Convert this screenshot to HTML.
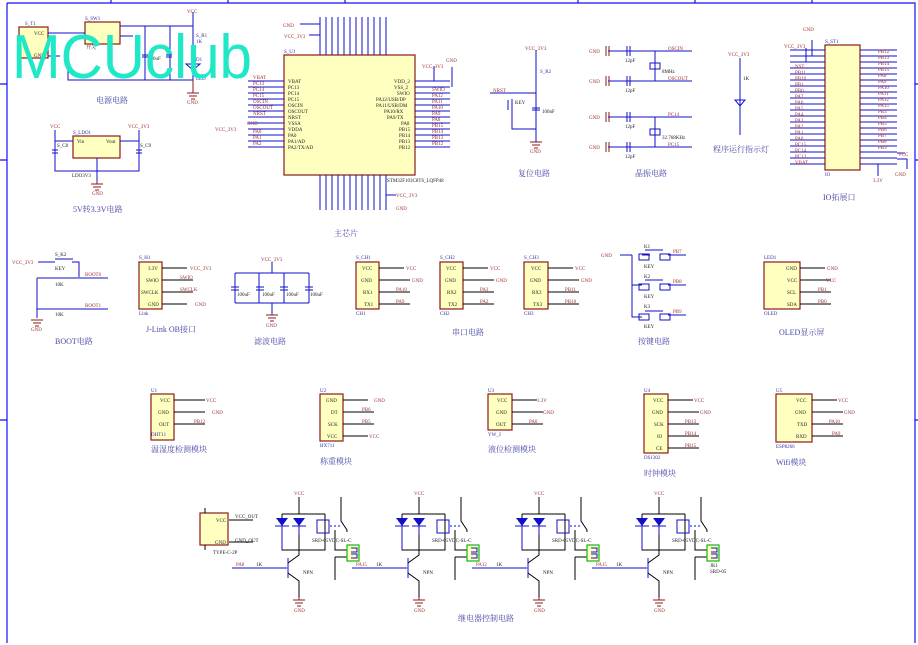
<!DOCTYPE html>
<html><head><meta charset="utf-8"><style>
html,body{margin:0;padding:0;background:#fff;}
svg{display:block;font-family:"Liberation Serif","Noto Serif CJK SC",serif;}
.w{stroke:#1010c8;stroke-width:1;fill:none}
.k{stroke:#000;stroke-width:1;fill:none}
.r{stroke:#8b1a1a;stroke-width:1;fill:none}
.bx{fill:#ffffc0;stroke:#8b1a1a;stroke-width:1.2}
.t{font-size:5px;fill:#222}
.n{font-size:5px;fill:#a03030}
.b{font-size:5px;fill:#3030a0}
.h{font-size:8px;fill:#4848a8;font-family:"Liberation Serif","Noto Serif CJK SC",serif}
</style></head><body>
<svg width="918" height="645" viewBox="0 0 918 645" xmlns="http://www.w3.org/2000/svg">
<rect width="918" height="645" fill="#fff"/>
<!-- border -->
<path d="M7 3V643M7 3H915V643M111 0V3M228 0V3M345 0V3M578 0V3M695 0V3M812 0V3M915 160h3M915 84h3M7 84H0M7 160H0M915 420h3M7 420H0" stroke="#1010ff" stroke-width="1.2" fill="none"/>

<!-- power circuit -->
<rect class="bx" x="19" y="27" width="29" height="31"/>
<rect class="bx" x="85" y="22" width="35" height="22"/>
<path class="w" d="M48 33h37M48 56H60M68 56V80H193M120 26h73M120 36h13M145 26V80M170 26V80M193 12V80"/>
<path class="w" d="M142 55h6M142 57h6M166 55h6M166 57h6"/>
<path class="w" d="M186 64l7 6l7-6z" fill="#1010c8"/>
<text class="n" x="187" y="13">VCC</text><text class="b" x="196" y="37">S_R1</text><text class="b" x="196" y="43">1K</text>
<text class="b" x="196" y="61">D1</text><text class="b" x="196" y="80">LED</text>
<text class="t" x="148" y="60">100uF</text><text class="b" x="85" y="20">S_SW1</text><text class="t" x="86" y="49">开关</text>
<text class="b" x="25" y="25">S_T1</text><text class="t" x="34" y="35">VCC</text><text class="t" x="34" y="57">GND</text>
<path class="r" d="M193 80v13M187 93h12M189 96h8M191 99h4"/><text class="n" x="187" y="104">GND</text>
<text class="h" x="96" y="103">电源电路</text>
<text x="12" y="78" font-family="Liberation Sans,sans-serif" font-size="62" fill="#1ee8c6" textLength="240" lengthAdjust="spacingAndGlyphs">MCUclub</text>

<!-- LDO -->
<rect class="bx" x="73" y="136" width="47" height="22"/>
<path class="w" d="M55 130v41H139V130M55 141h18M120 141h19M97 158v23"/>
<path class="w" d="M52 150h6M52 153h6M136 150h6M136 153h6"/>
<text class="n" x="50" y="128">VCC</text><text class="n" x="128" y="128">VCC_3V3</text>
<text class="t" x="77" y="143">Vin</text><text class="t" x="106" y="143">Vout</text><text class="b" x="73" y="134">S_LDO1</text>
<text class="t" x="57" y="147">S_C8</text><text class="t" x="140" y="147">S_C9</text><text class="t" x="72" y="177">LDO3V3</text>
<path class="r" d="M97 181v3M91 184h12M93 187h8M95 190h4"/><text class="n" x="92" y="195">GND</text>
<text class="h" x="73" y="212">5V转3.3V电路</text>

<!-- main chip -->
<rect class="bx" x="284" y="55" width="131" height="120"/>
<path class="w" d="M248 81h36M248 87h36M248 93h36M248 99h36M248 105h36M248 111h36M248 117h36M248 123h36M248 129h36M248 135h36M248 141h36M248 147h36"/>
<path class="w" d="M415 81h35M415 87h35M415 93h35M415 99h35M415 105h35M415 111h35M415 117h35M415 123h35M415 129h35M415 135h35M415 141h35M415 147h35"/>
<path class="w" d="M320 17v38M326 17v38M332 17v38M338 17v38M344 17v38M350 17v38M356 17v38M362 17v38M368 17v38M374 17v38M380 17v38M386 17v38"/>
<path class="w" d="M320 175v35M326 175v35M332 175v35M338 175v35M344 175v35M350 175v35M356 175v35M362 175v35M368 175v35M374 175v35M380 175v35M386 175v35"/>
<path class="w" d="M300 24h20v31M309 35h11M434 66v15M452 67v20M386 175v20h10"/>
<text class="n" x="283" y="27">GND</text><text class="n" x="284" y="38">VCC_3V3</text><text class="n" x="422" y="68">VCC_3V3</text><text class="n" x="446" y="62">GND</text>
<text class="n" x="396" y="197">VCC_3V3</text><text class="n" x="396" y="210">GND</text>
<text class="n" x="215" y="131">VCC_3V3</text><text class="n" x="247" y="125">GND</text>
<g class="t"><text x="288" y="83">VBAT</text><text x="288" y="89">PC13</text><text x="288" y="95">PC14</text><text x="288" y="101">PC15</text><text x="288" y="107">OSCIN</text><text x="288" y="113">OSCOUT</text><text x="288" y="119">NRST</text><text x="288" y="125">VSSA</text><text x="288" y="131">VDDA</text><text x="288" y="137">PA0</text><text x="288" y="143">PA1/AD</text><text x="288" y="149">PA2/TX/AD</text>
<text x="394" y="83">VDD_2</text><text x="394" y="89">VSS_2</text><text x="397" y="95">SWIO</text><text x="376" y="101">PA12/USB/DP</text><text x="376" y="107">PA11/USB/DM</text><text x="384" y="113">PA10/RX</text><text x="387" y="119">PA9/TX</text><text x="401" y="125">PA8</text><text x="399" y="131">PB15</text><text x="399" y="137">PB14</text><text x="399" y="143">PB13</text><text x="399" y="149">PB12</text></g>
<g class="n"><text x="253" y="79">VBAT</text><text x="253" y="85">PC13</text><text x="253" y="91">PC14</text><text x="253" y="97">PC15</text><text x="253" y="103">OSCIN</text><text x="253" y="109">OSCOUT</text><text x="253" y="115">NRST</text><text x="253" y="133">PA0</text><text x="253" y="139">PA1</text><text x="253" y="145">PA2</text>
<text x="432" y="91">SWIO</text><text x="432" y="97">PA12</text><text x="432" y="103">PA11</text><text x="432" y="109">PA10</text><text x="432" y="115">PA9</text><text x="432" y="121">PA8</text><text x="432" y="127">PB15</text><text x="432" y="133">PB14</text><text x="432" y="139">PB13</text><text x="432" y="145">PB12</text></g>
<text class="b" x="284" y="53">S_U1</text><text class="t" x="387" y="182">STM32F103C8T6_LQFP48</text>
<text class="h" x="334" y="236">主芯片</text>

<!-- reset -->
<path class="w" d="M536 50v80M490 93h46M512 99v30H536M536 130v12"/>
<path class="w" d="M532 108h8M532 110h8M508 100v10"/>
<text class="n" x="525" y="50">VCC_3V3</text><text class="n" x="493" y="92">NRST</text><text class="t" x="515" y="104">KEY</text><text class="t" x="542" y="113">100nF</text><text class="b" x="540" y="73">S_R2</text>
<path class="r" d="M530 142h12M532 145h8M534 148h4"/><text class="n" x="530" y="153">GND</text>
<text class="h" x="518" y="176">复位电路</text>

<!-- crystal -->
<path class="w" d="M608 51h84M608 81h84M608 117h84M608 147h84M655 51v30M655 117v30"/>
<rect x="650" y="63" width="10" height="6" class="w"/><rect x="650" y="129" width="10" height="6" class="w"/>
<path class="r" d="M606 46v10M609 46v10M606 76v10M609 76v10M606 112v10M609 112v10M606 142v10M609 142v10"/>
<path class="w" d="M627 46v10M630 46v10M627 76v10M630 76v10M627 112v10M630 112v10M627 142v10M630 142v10"/>
<g class="n"><text x="589" y="53">GND</text><text x="589" y="83">GND</text><text x="589" y="119">GND</text><text x="589" y="149">GND</text>
<text x="668" y="50">OSCIN</text><text x="668" y="80">OSCOUT</text><text x="668" y="116">PC14</text><text x="668" y="146">PC15</text></g>
<g class="t"><text x="625" y="62">12pF</text><text x="625" y="92">12pF</text><text x="625" y="128">12pF</text><text x="625" y="158">12pF</text><text x="662" y="73">8MHz</text><text x="662" y="139">32.768KHz</text></g>
<text class="h" x="635" y="176">晶振电路</text>

<!-- LED -->
<path class="w" d="M740 58v77M735 100h10l-5 6z" fill="#1010c8"/>
<text class="n" x="728" y="56">VCC_3V3</text><text class="t" x="743" y="80">1K</text>
<text class="h" x="713" y="152">程序运行指示灯</text>

<!-- IO header -->
<rect class="bx" x="825" y="45" width="35" height="125"/>
<path class="w" d="M790 50h35M790 56h35M790 62h35M790 68h35M790 74h35M790 80h35M790 86h35M790 92h35M790 98h35M790 104h35M790 110h35M790 116h35M790 122h35M790 128h35M790 134h35M790 140h35M790 146h35M790 152h35M790 158h35M790 164h35"/>
<path class="w" d="M860 50h37M860 56h37M860 62h37M860 68h37M860 74h37M860 80h37M860 86h37M860 92h37M860 98h37M860 104h37M860 110h37M860 116h37M860 122h37M860 128h37M860 134h37M860 140h37M860 146h37M860 152h37M860 158h37M860 164h37M806 48v14M812 40v16M897 153h8M897 159h10v10M878 164v12"/>
<text class="n" x="803" y="31">GND</text><text class="n" x="784" y="48">VCC_3V3</text><text class="n" x="898" y="156">VCC</text><text class="n" x="895" y="176">GND</text><text class="n" x="873" y="182">3.3V</text>
<g class="n"><text x="795" y="68">NST</text><text x="795" y="74">PB11</text><text x="795" y="80">PB10</text><text x="795" y="86">PB1</text><text x="795" y="92">PB0</text><text x="795" y="98">PA7</text><text x="795" y="104">PA6</text><text x="795" y="110">PA5</text><text x="795" y="116">PA4</text><text x="795" y="122">PA3</text><text x="795" y="128">PA2</text><text x="795" y="134">PA1</text><text x="795" y="140">PA0</text><text x="795" y="146">PC15</text><text x="795" y="152">PC14</text><text x="795" y="158">PC13</text><text x="795" y="164">VBAT</text>
<text x="878" y="53">PB12</text><text x="878" y="59">PB13</text><text x="878" y="65">PB14</text><text x="878" y="71">PB15</text><text x="878" y="77">PA8</text><text x="878" y="83">PA9</text><text x="878" y="89">PA10</text><text x="878" y="95">PA11</text><text x="878" y="101">PA12</text><text x="878" y="107">PA15</text><text x="878" y="113">PB3</text><text x="878" y="119">PB4</text><text x="878" y="125">PB5</text><text x="878" y="131">PB6</text><text x="878" y="137">PB7</text><text x="878" y="143">PB8</text><text x="878" y="149">PB9</text></g>
<text class="b" x="825" y="43">S_ST1</text><text class="b" x="825" y="176">IO</text>
<text class="h" x="823" y="200">IO拓展口</text>

<!-- BOOT -->
<path class="w" d="M38 262h17M72 262h7v15M37 278h71M37 309h71M37 278v40M55 259h18"/>
<path class="r" d="M31 320h12M33 323h8M35 326h4"/>
<text class="n" x="12" y="264">VCC_3V3</text><text class="n" x="85" y="276">BOOT0</text><text class="n" x="85" y="307">BOOT1</text><text class="n" x="31" y="331">GND</text>
<text class="t" x="55" y="256">S_K2</text><text class="t" x="55" y="270">KEY</text><text class="t" x="55" y="286">10K</text><text class="t" x="55" y="316">10K</text>
<text class="h" x="55" y="344">BOOT电路</text>

<!-- J-Link -->
<rect class="bx" x="139" y="262" width="23" height="47"/>
<path class="k" d="M162 268h25M162 280h31M162 292h31M162 304h25"/>
<g class="t"><text x="148" y="270">3.3V</text><text x="146" y="282">SWIO</text><text x="141" y="294">SWCLK</text><text x="148" y="306">GND</text></g>
<g class="n"><text x="190" y="270">VCC_3V3</text><text x="180" y="279">SWIO</text><text x="180" y="291">SWCLK</text><text x="195" y="306">GND</text></g>
<text class="b" x="139" y="259">S_H1</text><text class="b" x="139" y="315">Link</text>
<text class="h" x="146" y="332">J-Link OB接口</text>

<!-- filter -->
<path class="w" d="M235 273h74M235 303h74M235 273v30M259 273v30M284 273v30M309 273v30M272 262v11M272 303v12"/>
<path class="w" d="M231 287h8M231 290h8M256 287h8M256 290h8M280 287h8M280 290h8M305 287h8M305 290h8"/>
<path class="r" d="M266 315h12M268 318h8M270 321h4"/>
<text class="n" x="261" y="261">VCC_3V3</text><text class="n" x="266" y="327">GND</text>
<g class="t"><text x="237" y="296">100uF</text><text x="262" y="296">100uF</text><text x="286" y="296">100uF</text><text x="310" y="296">100uF</text></g>
<text class="h" x="254" y="344">滤波电路</text>

<!-- UART modules -->
<g class="mod">
<rect class="bx" x="356" y="262" width="23" height="47"/><path class="k" d="M379 268h25M379 280h31M379 292h31M379 304h31"/>
<rect class="bx" x="440" y="262" width="23" height="47"/><path class="k" d="M463 268h25M463 280h31M463 292h31M463 304h31"/>
<rect class="bx" x="524" y="262" width="24" height="47"/><path class="k" d="M548 268h25M548 280h31M548 292h31M548 304h31"/>
</g>
<g class="t"><text x="362" y="270">VCC</text><text x="361" y="282">GND</text><text x="363" y="294">RX1</text><text x="364" y="306">TX1</text>
<text x="446" y="270">VCC</text><text x="445" y="282">GND</text><text x="447" y="294">RX2</text><text x="448" y="306">TX2</text>
<text x="531" y="270">VCC</text><text x="530" y="282">GND</text><text x="532" y="294">RX3</text><text x="533" y="306">TX3</text></g>
<g class="n"><text x="406" y="270">VCC</text><text x="412" y="282">GND</text><text x="396" y="291">PA10</text><text x="396" y="303">PA9</text>
<text x="490" y="270">VCC</text><text x="496" y="282">GND</text><text x="480" y="291">PA3</text><text x="480" y="303">PA2</text>
<text x="575" y="270">VCC</text><text x="581" y="282">GND</text><text x="565" y="291">PB11</text><text x="565" y="303">PB10</text></g>
<text class="b" x="356" y="259">S_CH1</text><text class="b" x="356" y="315">CH1</text><text class="b" x="440" y="259">S_CH2</text><text class="b" x="440" y="315">CH2</text><text class="b" x="524" y="259">S_CH3</text><text class="b" x="524" y="315">CH3</text>
<text class="h" x="452" y="335">串口电路</text>

<!-- keys -->
<path class="w" d="M620 255h12M632 255v62h10M632 285h10M642 255h8M668 255h18M668 285h18M668 315h18"/>
<path class="w" d="M645 250h18M645 280h18M645 311h18" stroke-width="2"/>
<rect class="w" x="639" y="254" width="10" height="6"/><rect class="w" x="660" y="254" width="10" height="6"/>
<rect class="w" x="639" y="284" width="10" height="6"/><rect class="w" x="660" y="284" width="10" height="6"/>
<rect class="w" x="639" y="314" width="10" height="6"/><rect class="w" x="660" y="314" width="10" height="6"/>
<text class="n" x="601" y="257">GND</text><text class="n" x="673" y="253">PB7</text><text class="n" x="673" y="283">PB8</text><text class="n" x="673" y="313">PB9</text>
<g class="t"><text x="644" y="248">K1</text><text x="644" y="278">K2</text><text x="644" y="308">K3</text><text x="644" y="268">KEY</text><text x="644" y="298">KEY</text><text x="644" y="328">KEY</text></g>
<text class="h" x="638" y="344">按键电路</text>

<!-- OLED -->
<rect class="bx" x="764" y="262" width="36" height="47"/><path class="k" d="M800 268h25M800 280h31M800 292h31M800 304h31"/>
<g class="t"><text x="786" y="270">GND</text><text x="787" y="282">VCC</text><text x="787" y="294">SCL</text><text x="787" y="306">SDA</text></g>
<g class="n"><text x="827" y="270">GND</text><text x="826" y="282">VCC</text><text x="818" y="291">PB1</text><text x="818" y="303">PB0</text></g>
<text class="b" x="764" y="259">LED1</text><text class="b" x="764" y="315">OLED</text>
<text class="h" x="779" y="335">OLED显示屏</text>

<!-- sensor modules -->
<rect class="bx" x="151" y="394" width="23" height="46"/><path class="k" d="M174 400h31M174 412h31M174 424h31"/>
<g class="t"><text x="160" y="402">VCC</text><text x="158" y="414">GND</text><text x="159" y="426">OUT</text></g>
<g class="n"><text x="206" y="402">VCC</text><text x="212" y="414">GND</text><text x="194" y="423">PB12</text></g>
<text class="b" x="151" y="392">U1</text><text class="b" x="151" y="436">DHT11</text>
<text class="h" x="151" y="452">温湿度检测模块</text>

<rect class="bx" x="320" y="394" width="23" height="47"/><path class="k" d="M343 400h25M343 412h31M343 424h31M343 436h25"/>
<g class="t"><text x="326" y="402">GND</text><text x="331" y="414">DT</text><text x="328" y="426">SCK</text><text x="327" y="438">VCC</text></g>
<g class="n"><text x="374" y="402">GND</text><text x="362" y="411">PB6</text><text x="362" y="423">PB5</text><text x="369" y="438">VCC</text></g>
<text class="b" x="320" y="392">U2</text><text class="b" x="320" y="447">HX711</text>
<text class="h" x="320" y="464">称重模块</text>

<rect class="bx" x="488" y="394" width="24" height="36"/><path class="k" d="M512 400h25M512 412h31M512 424h31"/>
<g class="t"><text x="497" y="402">VCC</text><text x="496" y="414">GND</text><text x="496" y="426">OUT</text></g>
<g class="n"><text x="537" y="402">3.3V</text><text x="543" y="414">GND</text><text x="529" y="423">PA0</text></g>
<text class="b" x="488" y="392">U3</text><text class="b" x="488" y="436">YW_J</text>
<text class="h" x="488" y="452">液位检测模块</text>

<rect class="bx" x="644" y="394" width="24" height="59"/><path class="k" d="M668 400h25M668 412h31M668 424h31M668 436h31M668 448h31"/>
<g class="t"><text x="653" y="402">VCC</text><text x="652" y="414">GND</text><text x="654" y="426">SCK</text><text x="657" y="438">IO</text><text x="656" y="450">CE</text></g>
<g class="n"><text x="694" y="402">VCC</text><text x="700" y="414">GND</text><text x="685" y="423">PB13</text><text x="685" y="435">PB14</text><text x="685" y="447">PB15</text></g>
<text class="b" x="644" y="392">U4</text><text class="b" x="644" y="459">DS1302</text>
<text class="h" x="644" y="476">时钟模块</text>

<rect class="bx" x="776" y="394" width="36" height="48"/><path class="k" d="M812 400h25M812 412h31M812 424h31M812 436h31"/>
<g class="t"><text x="796" y="402">VCC</text><text x="795" y="414">GND</text><text x="797" y="426">TXD</text><text x="796" y="438">RXD</text></g>
<g class="n"><text x="838" y="402">VCC</text><text x="844" y="414">GND</text><text x="829" y="423">PA10</text><text x="832" y="435">PA9</text></g>
<text class="b" x="776" y="392">U5</text><text class="b" x="776" y="448">ESP8266</text>
<text class="h" x="776" y="465">Wifi模块</text>

<!-- Type-C -->
<rect class="bx" x="200" y="513" width="28" height="32"/><path class="k" d="M229 520h24M229 542h24M205 508v5M205 545v5"/>
<text class="t" x="216" y="522">VCC</text><text class="t" x="215" y="544">GND</text>
<text class="t" x="235" y="518">VCC_OUT</text><text class="t" x="235" y="542">GND_OUT</text><text class="t" x="213" y="554">TYPE-C-2P</text>

<!-- relays -->
<g id="rel">
<path class="k" d="M282 514h43M282 514v36h43V514M299 497v17M299 535v15M288 568v0"/>
<path d="M276 518h12l-6 8zM293 518h12l-6 8z" fill="#1010c8"/><path class="w" d="M275 526h14M292 526h14M282 526v24M299 526v9"/>
<rect x="317" y="520" width="12" height="13" class="w"/>
<path class="w" d="M330 526h10" stroke-dasharray="2 2"/>
<path class="k" d="M341 497v24l6 9v2M335 530v20h12M335 557v23M335 557h12"/>
<rect x="347" y="545" width="12" height="16" fill="#ffffc0" stroke="#22bb22" stroke-width="1.3"/>
<path class="w" d="M351 548h6v4h-6M351 554h6v4h-6"/>
<path class="w" d="M232 568h55M288 558v20" stroke-width="1.5"/>
<path class="k" d="M288 563l11-8v-5M288 573l11 8v16"/>
<path class="r" d="M299 597v3M293 600h12M295 603h8M297 606h4"/>
</g>
<g class="n"><text x="294" y="495">VCC</text><text x="294" y="612">GND</text><text x="236" y="566">PA8</text></g>
<g class="t"><text x="256" y="566">1K</text><text x="303" y="574">NPN</text><text x="312" y="542">SRD-05VDC-SL-C</text></g>
<use href="#rel" x="120"/><use href="#rel" x="240"/><use href="#rel" x="360"/>
<g class="n"><text x="414" y="495">VCC</text><text x="414" y="612">GND</text><text x="356" y="566">PA15</text>
<text x="534" y="495">VCC</text><text x="534" y="612">GND</text><text x="476" y="566">PA12</text>
<text x="654" y="495">VCC</text><text x="654" y="612">GND</text><text x="596" y="566">PA15</text></g>
<g class="t"><text x="376" y="566">1K</text><text x="423" y="574">NPN</text><text x="432" y="542">SRD-05VDC-SL-C</text>
<text x="496" y="566">1K</text><text x="543" y="574">NPN</text><text x="552" y="542">SRD-05VDC-SL-C</text>
<text x="616" y="566">1K</text><text x="663" y="574">NPN</text><text x="672" y="542">SRD-05VDC-SL-C</text><text x="710" y="567">JK1</text><text x="710" y="573">SRD-05</text></g>
<text class="h" x="458" y="621">继电器控制电路</text>
</svg>
</body></html>
